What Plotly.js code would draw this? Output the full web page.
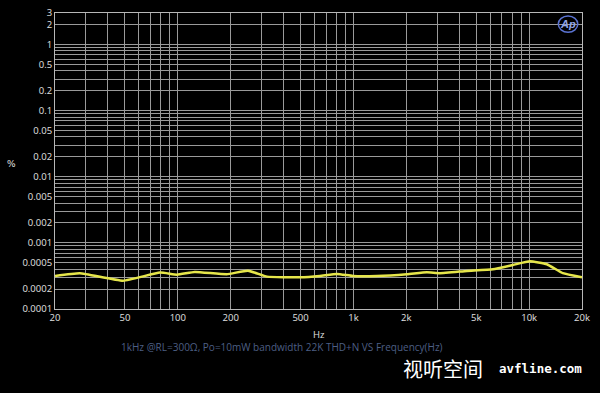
<!DOCTYPE html>
<html>
<head>
<meta charset="utf-8">
<script src="https://cdn.plot.ly/plotly-3.0.1.min.js"></script>
<style>
  html, body { margin: 0; padding: 0; background: #000; }
  #chart { width: 600px; height: 393px; }
</style>
</head>
<body>
<div id="chart"></div>
<script>
// Data (THD+N % vs frequency Hz)
const freqHz = [20, 27.7, 48.8, 79.2, 99, 125, 190, 251, 322, 496, 644, 806, 994, 1361, 2016, 2619, 3105, 4430, 6224, 8090, 10100, 12620, 15560, 20000];
const thdPct = [0.000316, 0.000348, 0.000268, 0.000355, 0.000331, 0.000364, 0.000336, 0.000380, 0.000309, 0.000302, 0.000316, 0.000339, 0.000316, 0.000316, 0.000336, 0.000360, 0.000348, 0.000377, 0.000400, 0.000464, 0.000528, 0.000476, 0.000348, 0.000302];

// Tick labels
const xLabelVals = [20, 50, 100, 200, 500, 1000, 2000, 5000, 10000, 20000];
const xLabelText = ['20', '50', '100', '200', '500', '1k', '2k', '5k', '10k', '20k'];
const yLabelVals = [0.0001, 0.0002, 0.0005, 0.001, 0.002, 0.005, 0.01, 0.02, 0.05, 0.1, 0.2, 0.5, 1, 2, 3];
const yLabelText = ['0.0001', '0.0002', '0.0005', '0.001', '0.002', '0.005', '0.01', '0.02', '0.05', '0.1', '0.2', '0.5', '1', '2', '3'];

const titleText = '1kHz @RL=300\u03A9, Po=10mW bandwidth 22K THD+N VS Frequency(Hz)';

// gridline positions (1..9 per decade), labels only where listed
function gridTicks(minV, maxV, labelVals, labelText) {
  const vals = [], text = [];
  for (let e = Math.floor(Math.log10(minV)); e <= Math.ceil(Math.log10(maxV)); e++) {
    for (let m = 1; m <= 9; m++) {
      const v = +(m * Math.pow(10, e)).toPrecision(6);
      if (v < minV * 0.999 || v > maxV * 1.001) continue;
      vals.push(v);
      const idx = labelVals.findIndex(l => Math.abs(l - v) / v < 1e-6);
      text.push(idx >= 0 ? labelText[idx] : '');
    }
  }
  return { vals, text };
}
const xg = gridTicks(20, 20000, xLabelVals, xLabelText);
const yg = gridTicks(0.0001, 3, yLabelVals, yLabelText);

const trace = {
  x: freqHz,
  y: thdPct,
  type: 'scatter',
  mode: 'lines',
  line: { color: '#e6e64a', width: 2.5, shape: 'spline', smoothing: 0.4 },
  hoverinfo: 'skip'
};

const tickFont = { family: 'Open Sans, DejaVu Sans, sans-serif', size: 9.5, color: '#e0e0e0' };

const layout = {
  width: 600,
  height: 393,
  paper_bgcolor: '#000000',
  plot_bgcolor: '#000000',
  margin: { l: 55, r: 18, t: 13, b: 84 },
  showlegend: false,
  xaxis: {
    type: 'log',
    range: [Math.log10(20), Math.log10(20000)],
    tickmode: 'array',
    tickvals: xg.vals,
    ticktext: xg.text,
    ticks: '',
    showgrid: true,
    gridcolor: '#9a9a9a',
    gridwidth: 1,
    showline: true,
    linecolor: '#b8b8b8',
    linewidth: 1,
    mirror: true,
    zeroline: false,
    tickfont: tickFont
  },
  yaxis: {
    type: 'log',
    range: [Math.log10(0.0001), Math.log10(3)],
    tickmode: 'array',
    tickvals: yg.vals,
    ticktext: yg.text,
    ticks: '',
    showgrid: true,
    gridcolor: '#9a9a9a',
    gridwidth: 1,
    showline: true,
    linecolor: '#b8b8b8',
    linewidth: 1,
    mirror: true,
    zeroline: false,
    tickfont: tickFont
  },
  annotations: [
    { text: 'Hz', xref: 'paper', yref: 'paper', x: 0.5, y: -0.085, xanchor: 'center', yanchor: 'middle',
      showarrow: false, font: { family: 'Open Sans, sans-serif', size: 9.5, color: '#e0e0e0' } },
    { text: '%', xref: 'paper', yref: 'paper', x: -0.083, y: 0.49, xanchor: 'center', yanchor: 'middle',
      showarrow: false, font: { family: 'DejaVu Sans, sans-serif', size: 9, color: '#e0e0e0' } },
    { text: titleText, xref: 'paper', yref: 'paper', x: 0.43, y: -0.127, xanchor: 'center', yanchor: 'middle',
      showarrow: false, font: { family: 'Open Sans, sans-serif', size: 10, color: '#4d5f84' } },
    { text: '视听空间', xref: 'paper', yref: 'paper', x: 0.656, y: -0.2, xanchor: 'left', yanchor: 'middle',
      showarrow: false, font: { family: 'Noto Sans CJK SC, sans-serif', size: 20, color: '#ffffff' } },
    { text: '<b>avfline.com</b>', xref: 'paper', yref: 'paper', x: 1.003, y: -0.2, xanchor: 'right', yanchor: 'middle',
      showarrow: false, font: { family: 'DejaVu Sans Mono, monospace', size: 12.5, color: '#ffffff' } },
    { text: '<b><i>Ap</i></b>', xref: 'paper', yref: 'paper', x: 0.973, y: 0.962, xanchor: 'center', yanchor: 'middle',
      showarrow: false, font: { family: 'Liberation Sans, Arial, sans-serif', size: 11, color: '#8fa4e8' } }
  ],
  shapes: [
    { type: 'circle', xref: 'paper', yref: 'paper', x0: 0.955, x1: 0.992, y0: 0.935, y1: 0.99,
      line: { color: '#5a72d0', width: 1.5 }, fillcolor: 'rgba(0,0,0,0)' }
  ]
};

Plotly.newPlot('chart', [trace], layout, { displayModeBar: false, staticPlot: true });
</script>
</body>
</html>
